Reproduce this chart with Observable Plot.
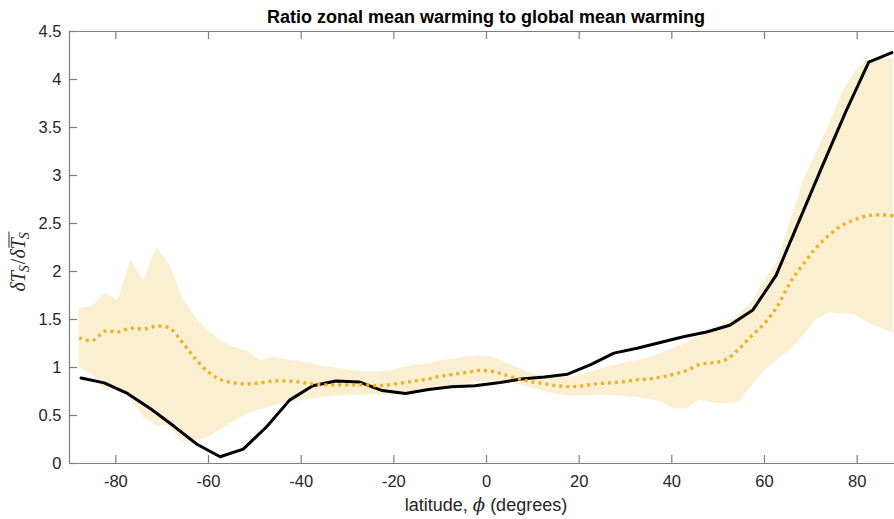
<!DOCTYPE html>
<html><head><meta charset="utf-8">
<script src="https://cdn.jsdelivr.net/npm/d3@7"></script>
<script src="https://cdn.jsdelivr.net/npm/@observablehq/plot@0.6"></script>
<style>
html,body{margin:0;padding:0;background:#fff;overflow:hidden}
#chart svg{display:block}
</style></head><body><div id="chart"></div>
<script>
// ---- data ----
const gridLat = [-87.9,-85.1,-82.3,-79.5,-76.7,-74.0,-71.2,-68.4,-65.6,-62.8,-60.0,-57.2,-54.4,-51.6,-48.8,-46.0,-43.3,-40.5,-37.7,-34.9,-32.1,-29.3,-26.5,-23.7,-20.9,-18.1,-15.3,-12.6,-9.8,-7.0,-4.2,-1.4,1.4,4.2,7.0,9.8,12.6,15.3,18.1,20.9,23.7,26.5,29.3,32.1,34.9,37.7,40.5,43.3,46.0,48.8,51.6,54.4,57.2,60.0,62.8,65.6,68.4,71.2,74.0,76.7,79.5,82.3,85.1,87.9];
const bandUpper = [1.62,1.63,1.77,1.70,2.12,1.90,2.25,2.07,1.73,1.52,1.38,1.27,1.21,1.17,1.07,1.11,1.08,1.06,1.04,1.01,0.99,0.97,0.95,0.95,0.96,1.00,1.02,1.04,1.07,1.09,1.11,1.12,1.11,1.05,0.99,0.94,0.90,0.89,0.90,0.93,0.97,1.01,1.04,1.07,1.10,1.15,1.20,1.26,1.32,1.38,1.46,1.55,1.67,1.90,2.10,2.52,2.95,3.24,3.53,3.85,4.08,4.20,4.21,4.22];
const bandLower = [1.00,0.93,0.75,0.78,0.68,0.48,0.39,0.39,0.23,0.24,0.27,0.36,0.44,0.51,0.56,0.60,0.63,0.65,0.67,0.69,0.70,0.71,0.71,0.72,0.71,0.72,0.73,0.75,0.78,0.80,0.83,0.85,0.86,0.85,0.82,0.78,0.75,0.72,0.70,0.70,0.71,0.71,0.70,0.69,0.67,0.64,0.57,0.57,0.66,0.63,0.62,0.64,0.80,0.96,1.08,1.18,1.33,1.50,1.57,1.56,1.55,1.47,1.41,1.36];
const modelMean = [1.31,1.28,1.38,1.37,1.41,1.40,1.43,1.41,1.26,1.09,0.95,0.87,0.84,0.83,0.84,0.86,0.86,0.85,0.83,0.82,0.82,0.82,0.82,0.81,0.82,0.84,0.86,0.88,0.91,0.93,0.95,0.97,0.96,0.92,0.88,0.85,0.83,0.81,0.80,0.81,0.83,0.84,0.85,0.87,0.88,0.90,0.93,0.97,1.03,1.05,1.08,1.19,1.33,1.46,1.64,1.89,2.08,2.25,2.38,2.48,2.54,2.58,2.59,2.58];
const obsLat = [-87.5,-82.5,-77.5,-72.5,-67.5,-62.5,-57.5,-52.5,-47.5,-42.5,-37.5,-32.5,-27.5,-22.5,-17.5,-12.5,-7.5,-2.5,2.5,7.5,12.5,17.5,22.5,27.5,32.5,37.5,42.5,47.5,52.5,57.5,62.5,67.5,72.5,77.5,82.5,87.5];
const obsRatio = [0.89,0.84,0.73,0.57,0.39,0.20,0.07,0.15,0.38,0.66,0.81,0.86,0.85,0.76,0.73,0.77,0.80,0.81,0.84,0.88,0.90,0.93,1.03,1.15,1.20,1.26,1.32,1.37,1.44,1.60,1.96,2.53,3.10,3.66,4.18,4.28];
const xTicks = [-80,-60,-40,-20,0,20,40,60,80];
const yTicks = [0,0.5,1,1.5,2,2.5,3,3.5,4,4.5];
const titleText = "Ratio zonal mean warming to global mean warming";
const xLabelParts = ["latitude, ", "\u03D5", " (degrees)"];

// ---- tables for the library ----
const band = gridLat.map((lat, i) => ({lat, lo: bandLower[i], hi: bandUpper[i], mean: modelMean[i]}));
const obs = obsLat.map((lat, i) => ({lat, v: obsRatio[i]}));

const axisColor = "#7f7f7f";
const textColor = "#262626";
const xMin = -90, xMax = 88.06, yMin = 0, yMax = 4.5;
const tickPx = 8;
const W = 894, H = 519, mL = 69, mR = 0, mT = 31, mB = 56;
const dxTick = tickPx * (xMax - xMin) / (W - mL - mR);
const dyTick = tickPx * (yMax - yMin) / (H - mT - mB);

const sans = "'Liberation Sans', Arial, Helvetica, sans-serif";

const plot = Plot.plot({
  width: W, height: H,
  marginLeft: mL, marginRight: mR, marginTop: mT, marginBottom: mB,
  x: {domain: [xMin, xMax]},
  y: {domain: [yMin, yMax]},
  style: {fontFamily: sans, background: "white", overflow: "visible"},
  marks: [
    Plot.areaY(band, {x: "lat", y1: "lo", y2: "hi", fill: "#FBEFD2", curve: "linear"}),
    Plot.line(obs, {x: "lat", y: "v", stroke: "black", strokeWidth: 3, strokeLinejoin: "round"}),
    Plot.line(band, {x: "lat", y: "mean", stroke: "#EDB120", strokeWidth: 3.3, strokeDasharray: "3,4", strokeLinecap: "butt", curve: "catmull-rom"}),
    Plot.ruleX([xMin], {stroke: axisColor, strokeWidth: 1.2}),
    Plot.ruleY([yMin, yMax], {stroke: axisColor, strokeWidth: 1.2}),
    Plot.ruleX(xTicks, {x: d => d, y1: yMin, y2: yMin + dyTick, stroke: axisColor, strokeWidth: 1.2}),
    Plot.ruleX(xTicks, {x: d => d, y1: yMax, y2: yMax - dyTick, stroke: axisColor, strokeWidth: 1.2}),
    Plot.ruleY(yTicks, {y: d => d, x1: xMin, x2: xMin + dxTick, stroke: axisColor, strokeWidth: 1.2}),
    Plot.axisX(xTicks, {tickSize: 0, tickPadding: 12, tickFormat: d => String(d), fontSize: 16.5, fill: textColor, label: null}),
    Plot.axisY(yTicks, {tickSize: 0, tickPadding: 8, tickFormat: d => String(d), fontSize: 16.5, fill: textColor, label: null})
  ]
});
document.getElementById("chart").appendChild(plot);

const sx = plot.scale("x"), sy = plot.scale("y");
const svg = d3.select(plot);
const cx = sx.apply(0);

// title
svg.append("text")
  .attr("x", cx).attr("y", 22.5)
  .attr("text-anchor", "middle")
  .attr("font-family", sans).attr("font-size", 18).attr("font-weight", "bold")
  .attr("fill", "black")
  .text(titleText);

// x label
const xl = svg.append("text")
  .attr("x", cx).attr("y", 511)
  .attr("text-anchor", "middle")
  .attr("font-family", sans).attr("font-size", 18)
  .attr("fill", textColor);
xl.append("tspan").text(xLabelParts[0]);
xl.append("tspan").attr("font-family", "'DejaVu Serif', serif").attr("font-style", "italic").text(xLabelParts[1]);
xl.append("tspan").text(xLabelParts[2]);

// y label: δT_S / δ overline(T_S)
const serif = "'Liberation Serif', 'DejaVu Serif', serif";
const g = svg.append("g");
const fs = 20, sub = 14;
const yt = g.append("text")
  .attr("x", 0).attr("y", 0)
  .attr("font-family", serif).attr("font-size", fs)
  .attr("font-style", "italic")
  .attr("fill", textColor);
yt.append("tspan").text("\u03B4T");
yt.append("tspan").attr("font-size", sub).attr("dy", 4).attr("dx", -1).text("S");
yt.append("tspan").attr("font-style", "normal").attr("dy", -4).attr("dx", 1).text("/");
yt.append("tspan").text("\u03B4");
const tOver = yt.append("tspan").text("T");
const sOver = yt.append("tspan").attr("font-size", sub).attr("dy", 4).attr("dx", -1).text("S");
const node = yt.node();
const n = node.getNumberOfChars();
const startOver = node.getStartPositionOfChar(n - 2).x;
const endOver = node.getEndPositionOfChar(n - 1).x;
const total = node.getComputedTextLength();
g.append("line")
  .attr("x1", startOver + 1.5).attr("x2", endOver + 0.5)
  .attr("y1", -16).attr("y2", -16)
  .attr("stroke", textColor).attr("stroke-width", 1);
const yc = sy.apply((yMin + yMax) / 2);
g.attr("transform", `translate(25,${yc}) rotate(-90) translate(${-(endOver) / 2},0)`);
</script>
</body></html>
